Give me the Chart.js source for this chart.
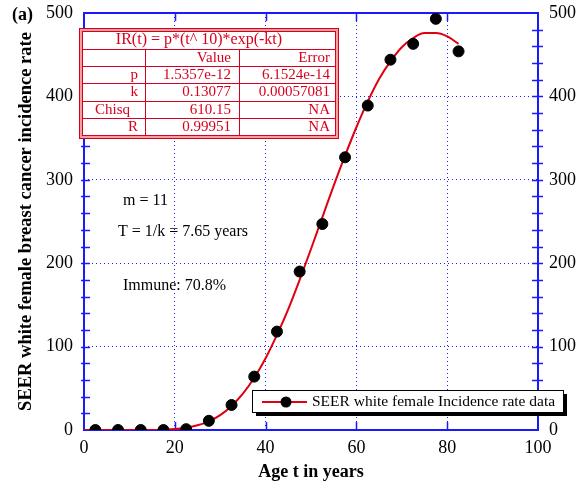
<!DOCTYPE html>
<html>
<head>
<meta charset="utf-8">
<style>
  body { margin: 0; background: #fff; }
  #wrap { width: 576px; height: 489px; }
</style>
</head>
<body>
<div id="wrap"><canvas id="incidenceChart" width="576" height="489"></canvas></div>
<script src="https://cdn.jsdelivr.net/npm/chart.js"></script>
<script>
  // SEER data points (age group midpoints)
  var dataAges = [2.5, 7.5, 12.5, 17.5, 22.5, 27.5, 32.5, 37.5, 42.5, 47.5, 52.5, 57.5, 62.5, 67.5, 72.5, 77.5, 82.5];
  var dataRates = [0, 0, 0, 0, 1, 11, 30, 64, 118, 190, 247, 327, 389, 444, 463, 493, 454];

  // fitted curve
  var curveAges = [0, 2.5, 5, 7.5, 10, 12.5, 15, 17.5, 20, 22.5, 25, 27.5, 30, 32.5, 35, 37.5, 40, 42.5,
                   45, 47.5, 50, 52.5, 55, 57.5, 60, 62.5, 65, 67.5, 70, 72.5, 75, 77.5, 80, 82.5];
  var curveRates = [0, 0, 0, 0, 0, 0, 0, 0.4, 1.1, 2.7, 5.6, 10.4, 17.9, 28.8, 43.5, 62.6, 86, 114,
                    145, 180, 217, 255, 293, 329, 363, 394, 421, 442, 459, 470, 476, 476, 472, 463];

  var xTicks = [0, 20, 40, 60, 80, 100];
  var yTicks = [0, 100, 200, 300, 400, 500];

  var fitTitle = 'IR(t) = p*(t^ 10)*exp(-kt)';
  var fitNames = ['p', 'k', 'Chisq', 'R'];
  var fitValues = ['1.5357e-12', '0.13077', '610.15', '0.99951'];
  var fitErrors = ['6.1524e-14', '0.00057081', 'NA', 'NA'];

  var notes = ['m = 11', 'T = 1/k = 7.65 years', 'Immune: 70.8%'];
  var legendLabel = 'SEER white female Incidence rate data';

  var SERIF = '"Liberation Serif", "DejaVu Serif", serif';
  var BLUE = '#1a1aff';
  var RED = '#e00010';
  var TRED = '#d8001c';

  function pts(xs, ys) {
    var out = [];
    for (var i = 0; i < xs.length; i++) out.push({x: xs[i], y: ys[i]});
    return out;
  }

  var framePlugin = {
    id: 'frame',
    beforeDatasetsDraw: function (chart) {
      var ctx = chart.ctx, a = chart.chartArea;
      var xs = chart.scales.x, ys = chart.scales.y;
      ctx.save();
      ctx.strokeStyle = BLUE;
      ctx.lineWidth = 1.5;
      // y ticks every 20, crossing both side axes
      for (var v = 20; v < 500; v += 20) {
        var py = Math.round(ys.getPixelForValue(v)) + 0.5;
        ctx.beginPath();
        ctx.moveTo(a.left - 3, py); ctx.lineTo(a.left + 6, py);
        ctx.moveTo(a.right - 6, py); ctx.lineTo(a.right + 5, py);
        ctx.stroke();
      }
      // x ticks inward
      for (var i = 1; i < xTicks.length - 1; i++) {
        var px = Math.round(xs.getPixelForValue(xTicks[i])) + 0.5;
        ctx.beginPath();
        ctx.moveTo(px, a.top); ctx.lineTo(px, a.top + 8);
        ctx.moveTo(px, a.bottom); ctx.lineTo(px, a.bottom - 8);
        ctx.stroke();
      }
      ctx.lineWidth = 2;
      ctx.strokeRect(a.left, a.top, a.right - a.left, a.bottom - a.top);
      ctx.restore();
    },
    afterDraw: function (chart) {
      var ctx = chart.ctx;
      ctx.save();

      // (a)
      ctx.fillStyle = '#000';
      ctx.font = 'bold 18px ' + SERIF;
      ctx.textBaseline = 'middle';
      ctx.textAlign = 'left';
      ctx.fillText('(a)', 12, 15);

      // fit table
      var L = 79, T = 28, R = 339, B = 139;
      ctx.fillStyle = '#fff';
      ctx.fillRect(L, T, R - L, B - T);
      ctx.strokeStyle = '#f0a0a0';
      ctx.lineWidth = 3;
      ctx.strokeRect(L + 1.5, T + 1.5, R - L - 3, B - T - 3);
      ctx.strokeStyle = TRED;
      ctx.lineWidth = 1;
      ctx.strokeRect(L + 0.5, T + 0.5, R - L - 1, B - T - 1);
      ctx.strokeRect(L + 3.5, T + 3.5, R - L - 7, B - T - 7);
      var rows = [49.5, 66.5, 83.5, 101.5, 118.5];
      ctx.beginPath();
      rows.forEach(function (ry) { ctx.moveTo(L + 3, ry); ctx.lineTo(R - 3, ry); });
      ctx.moveTo(145.5, rows[0]); ctx.lineTo(145.5, B - 3);
      ctx.moveTo(239.5, rows[0]); ctx.lineTo(239.5, B - 3);
      ctx.stroke();

      ctx.fillStyle = TRED;
      ctx.font = '16px ' + SERIF;
      ctx.textAlign = 'center';
      ctx.fillText(fitTitle, 199, 40);
      ctx.font = '15px ' + SERIF;
      ctx.textAlign = 'right';
      ctx.fillText('Value', 231, 58);
      ctx.fillText('Error', 330, 58);
      var centers = [75, 92, 110, 127];
      for (var r = 0; r < fitNames.length; r++) {
        ctx.fillText(fitNames[r], fitNames[r] === 'Chisq' ? 130 : 138, centers[r]);
        ctx.fillText(fitValues[r], 231, centers[r]);
        ctx.fillText(fitErrors[r], 330, centers[r]);
      }

      // notes
      ctx.fillStyle = '#000';
      ctx.font = '16px ' + SERIF;
      ctx.textAlign = 'left';
      ctx.fillText(notes[0], 123, 201);
      ctx.fillText(notes[1], 118, 232);
      ctx.fillText(notes[2], 123, 286);

      // legend box with shadow
      var lx = 252, ly = 390, lw = 311, lh = 22;
      ctx.fillStyle = '#000';
      ctx.fillRect(lx + 4, ly + 4, lw, lh);
      ctx.fillStyle = '#fff';
      ctx.fillRect(lx, ly, lw, lh);
      ctx.strokeStyle = '#000';
      ctx.lineWidth = 1;
      ctx.strokeRect(lx + 0.5, ly + 0.5, lw, lh);
      ctx.strokeStyle = RED;
      ctx.lineWidth = 2;
      ctx.beginPath();
      ctx.moveTo(262, 402); ctx.lineTo(307, 402);
      ctx.stroke();
      ctx.fillStyle = '#000';
      ctx.beginPath();
      ctx.arc(286, 402, 5.5, 0, Math.PI * 2);
      ctx.fill();
      ctx.font = '15.5px ' + SERIF;
      ctx.fillText(legendLabel, 312, 402);

      ctx.restore();
    }
  };

  var gridOpts = {
    color: BLUE,
    lineWidth: 1,
    drawTicks: false
  };

  function fixSide(width) {
    return function (s) {
      s.width = width;
      s.paddingTop = 0;
      s.paddingBottom = 0;
    };
  }

  new Chart(document.getElementById('incidenceChart').getContext('2d'), {
    type: 'scatter',
    data: {
      datasets: [{
        label: legendLabel,
        data: pts(dataAges, dataRates),
        backgroundColor: '#000',
        borderColor: '#000',
        pointRadius: 5.5,
        showLine: false,
        yAxisID: 'y'
      }, {
        label: 'fit',
        data: pts(curveAges, curveRates),
        borderColor: RED,
        borderWidth: 2,
        pointRadius: 0,
        showLine: true,
        cubicInterpolationMode: 'monotone',
        yAxisID: 'y'
      }]
    },
    options: {
      responsive: false,
      animation: false,
      layout: { padding: { top: 13, left: 0, right: 0, bottom: 0 } },
      plugins: { legend: { display: false }, tooltip: { enabled: false } },
      scales: {
        x: {
          type: 'linear',
          min: 0, max: 100,
          afterBuildTicks: function (s) { s.ticks = xTicks.map(function (v) { return {value: v}; }); },
          afterFit: function (s) { s.height = 59; s.paddingLeft = 0; s.paddingRight = 0; },
          grid: gridOpts,
          border: { display: false, dash: [1, 3] },
          ticks: { color: '#000', font: { family: SERIF, size: 18 }, padding: 7, maxRotation: 0 },
          title: { display: true, text: 'Age t in years', color: '#000',
                   font: { family: SERIF, size: 18, weight: 'bold' }, padding: { top: 4, bottom: 6 } }
        },
        y: {
          position: 'left',
          min: 0, max: 500,
          afterBuildTicks: function (s) { s.ticks = yTicks.map(function (v) { return {value: v}; }); },
          afterFit: fixSide(84),
          grid: gridOpts,
          border: { display: false, dash: [1, 3] },
          ticks: { color: '#000', font: { family: SERIF, size: 18 }, padding: 11 },
          title: { display: true, text: 'SEER white female breast cancer incidence rate', color: '#000',
                   font: { family: SERIF, size: 18.5, weight: 'bold' }, padding: { top: 15, bottom: 4 } }
        },
        y2: {
          position: 'right',
          min: 0, max: 500,
          afterBuildTicks: function (s) { s.ticks = yTicks.map(function (v) { return {value: v}; }); },
          afterFit: fixSide(38),
          grid: { display: false, drawTicks: false },
          border: { display: false },
          ticks: { color: '#000', font: { family: SERIF, size: 18 }, padding: 11 }
        }
      }
    },
    plugins: [framePlugin]
  });
</script>
</body>
</html>
